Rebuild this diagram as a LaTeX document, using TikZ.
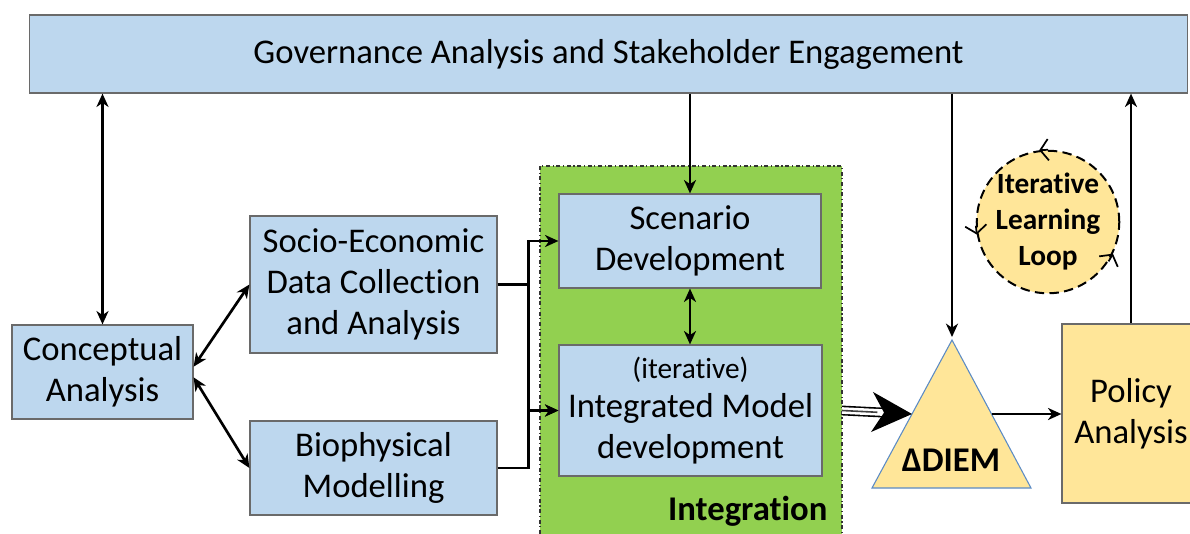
\documentclass[tikz,border=0pt]{standalone}
\usepackage{fontspec}
\setmainfont{Carlito}[Ligatures=NoCommon]
\usetikzlibrary{arrows.meta}

\definecolor{boxblue}{HTML}{BDD7EE}
\definecolor{zonegreen}{HTML}{92D050}
\definecolor{boxyellow}{HTML}{FFE699}
\definecolor{edgegray}{HTML}{6A6A6A}
\definecolor{triblue}{HTML}{5B8BC5}

\tikzset{
	bluebox/.style={draw=edgegray, fill=boxblue, line width=0.9pt, align=center, inner sep=0pt},
	yellowbox/.style={draw=edgegray, fill=boxyellow, line width=0.9pt, align=center, inner sep=0pt},
	link/.style={line width=2pt, -{Stealth[length=10pt,width=9pt,inset=3pt]}},
	twolink/.style={line width=2pt, {Stealth[length=10pt,width=9pt,inset=3pt]}-{Stealth[length=10pt,width=9pt,inset=3pt]}},
	looptip/.style={line width=1.3pt, -{Straight Barb[length=6pt,width=16pt]}}
}

\begin{document}
\begin{tikzpicture}[x=0.75pt,y=-0.75pt,font=\fontsize{26}{30.75}\selectfont]
	\useasboundingbox (0,0) rectangle (1190,533);

	%Integration zone
	\draw [fill=zonegreen, draw=black!80, line width=0.8pt, dash dot] (540,166) rectangle (842,545);
	\coordinate (zoneR) at (842,0);
	\node [anchor=east, font=\bfseries\fontsize{26}{30.75}\selectfont] (intname) at (832,511) {Integration};

	%Boxes
	\node [bluebox, minimum width=869pt, minimum height=58.5pt] (gov) at (608.5,54) {Governance Analysis and Stakeholder Engagement};
	\node [bluebox, minimum width=135.75pt, minimum height=70.5pt] (concept) at (102.5,372) {Conceptual\\Analysis};
	\node [bluebox, minimum width=185.25pt, minimum height=102.75pt] (socio) at (373.5,284.5) {Socio-Economic\\Data Collection\\and Analysis};
	\node [bluebox, minimum width=185.25pt, minimum height=70.5pt] (bio) at (373.5,468) {Biophysical\\Modelling};
	\node [bluebox, minimum width=196.5pt, minimum height=70.5pt] (scenario) at (690,241) {Scenario\\Development};
	\node [bluebox, minimum width=197.25pt, minimum height=98.25pt] (integ) at (690.5,410.5) {{\fontsize{22}{26}\selectfont (iterative)}\\[-1pt]Integrated Model\\development};
	\node [yellowbox, minimum width=103.5pt, minimum height=134.25pt] (policy) at (1131,413.5) {Policy\\Analysis};

	%Triangle DIEM
	\draw [fill=boxyellow, draw=triblue, line width=0.8pt] (952,340) -- (1031,488) -- (872,488) -- cycle;
	\node [font=\bfseries\fontsize{26}{30.75}\selectfont] (diem) at (951,460) {ΔDIEM};
	\coordinate (triTop) at (952,337);
	\coordinate (triL) at (912,414);
	\coordinate (triR) at (991.5,414);

	%Iterative learning loop
	\node [circle, draw=black, fill=boxyellow, line width=1.5pt, dash pattern=on 7pt off 4pt, minimum size=99pt, inner sep=0pt, align=center,
		font=\bfseries\fontsize{22}{27}\selectfont] (loop) at (1048,222) {Iterative\\Learning\\Loop};
	\draw [looptip] (loop.90) -- (loop.97);
	\draw [looptip] (loop.183) -- (loop.190);
	\draw [looptip] (loop.327) -- (loop.334);

	%Connectors
	\draw [twolink] (concept.north |- gov.south) -- (concept.north);
	\draw [twolink] ([yshift=4pt]concept.east) -- (socio.west);
	\draw [twolink] ([yshift=-4pt]concept.east) -- (bio.west);
	\draw [link] (socio.east) -- ++(31,0) |- (scenario.west);
	\draw [link] (socio.east) -- ++(31,0) |- (integ.west);
	\draw [link] (bio.east) -- ++(31,0) |- (integ.west);
	\draw [link] (scenario.north |- gov.south) -- (scenario.north);
	\draw [twolink] (scenario.south) -- (scenario.south |- integ.north);
	\draw [link] (triTop |- gov.south) -- (triTop);
	\draw [link] (triR) -- (triR -| policy.west);
	\draw [link] (policy.north) -- (policy.north |- gov.south);

	%Model output into DIEM
	\draw [line width=1.2pt, double=white, double distance=5pt, -{Stealth[length=30pt,width=30pt,inset=9pt]}] (zoneR |- integ.east) -- (triL);
	\draw [line width=1.2pt, black!75, shorten >=26pt] (zoneR |- integ.east) -- (triL);
\end{tikzpicture}
\end{document}
